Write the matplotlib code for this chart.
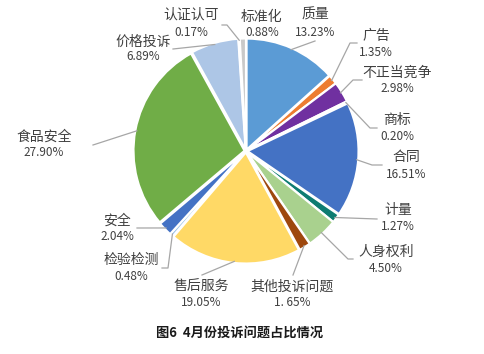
import numpy as np
import matplotlib
matplotlib.use('Agg')
import matplotlib.pyplot as plt

plt.rcParams['font.family'] = ['Noto Sans CJK SC', 'DejaVu Sans']

# data, clockwise from 12 o'clock
names = ['质量', '广告', '不正当竞争', '商标', '合同', '计量', '人身权利', '其他投诉问题',
         '售后服务', '检验检测', '安全', '食品安全', '价格投诉', '认证认可', '标准化']
shares = [13.23, 1.35, 2.98, 0.20, 16.51, 1.27, 4.50, 1.65,
          19.05, 0.48, 2.04, 27.90, 6.89, 0.17, 0.88]
pct_text = ['13.23%', '1.35%', '2.98%', '0.20%', '16.51%', '1.27%', '4.50%', '1. 65%',
            '19.05%', '0.48%', '2.04%', '27.90%', '6.89%', '0.17%', '0.88%']
colors = ['#5B9BD5', '#ED7D31', '#7030A0', '#A5A5A5', '#4472C4', '#0E7C72', '#A9D18E', '#9E480E',
          '#FFD966', '#9DC3E6', '#4472C4', '#70AD47', '#ADC6E6', '#F4B183', '#C9C9C9']

W, H = 485, 354
cx, cy, R = 246, 151, 111   # pixel layout

# label centres (pixels): x, name line y, percent line y
label_pos = [(315, 15, 32), (376, 36, 52), (397, 73, 89), (397, 120, 137), (406, 157, 174),
             (398, 210, 227), (386, 252, 268), (292, 287, 302), (201, 287, 302),
             (131, 260, 277), (117, 221, 237), (44, 137, 153), (143, 42, 57),
             (191, 15, 33), (262, 17, 33)]
# leader line bends (pixels), after the point on the wedge edge
leaders = [[(315, 41)], [(350, 43), (357, 43)], [(353, 80), (362, 80)], [(370, 128), (377, 128)],
           [(372, 165), (382, 165)], [(377, 219)], [(348, 259), (353, 259)], [(293, 275)],
           [(202, 275)], [(168, 268), (162, 268)], [(137, 228)], [(93, 145)], [(173, 49)],
           [(227, 25), (222, 25)], []]

fig = plt.figure(figsize=(W / 100, H / 100), dpi=100)
ax = fig.add_axes([0, 0, 1, 1])

ax.pie(shares, colors=colors, startangle=90, counterclock=False,
       center=(cx, H - cy), radius=R, explode=[1.5] * len(shares),
       wedgeprops=dict(edgecolor='white', linewidth=1.5))
ax.set_xlim(0, W)
ax.set_ylim(0, H)
ax.set_aspect('auto')
ax.axis('off')

total = sum(shares)
cum = np.cumsum([0] + shares)
for i, name in enumerate(names):
    mid = (cum[i] + shares[i] / 2) / total * 2 * np.pi
    sx = cx + R * np.sin(mid)
    sy = cy - R * np.cos(mid)
    pts = [(sx, sy)] + leaders[i]
    if len(pts) > 1:
        xs = [p[0] for p in pts]
        ys = [H - p[1] for p in pts]
        ax.plot(xs, ys, color='#A6A6A6', lw=0.9)
    x, ny, py = label_pos[i]
    ax.text(x, H - ny, name, ha='center', va='center', fontsize=10, color='#404040')
    ax.text(x, H - py, pct_text[i], ha='center', va='center', fontsize=8.5, color='#404040')

ax.text(240, H - 333, '图6  4月份投诉问题占比情况', ha='center', va='center',
        fontsize=9.5, fontweight='bold', color='#1a1a1a')

fig.savefig('out.png', dpi=100)
